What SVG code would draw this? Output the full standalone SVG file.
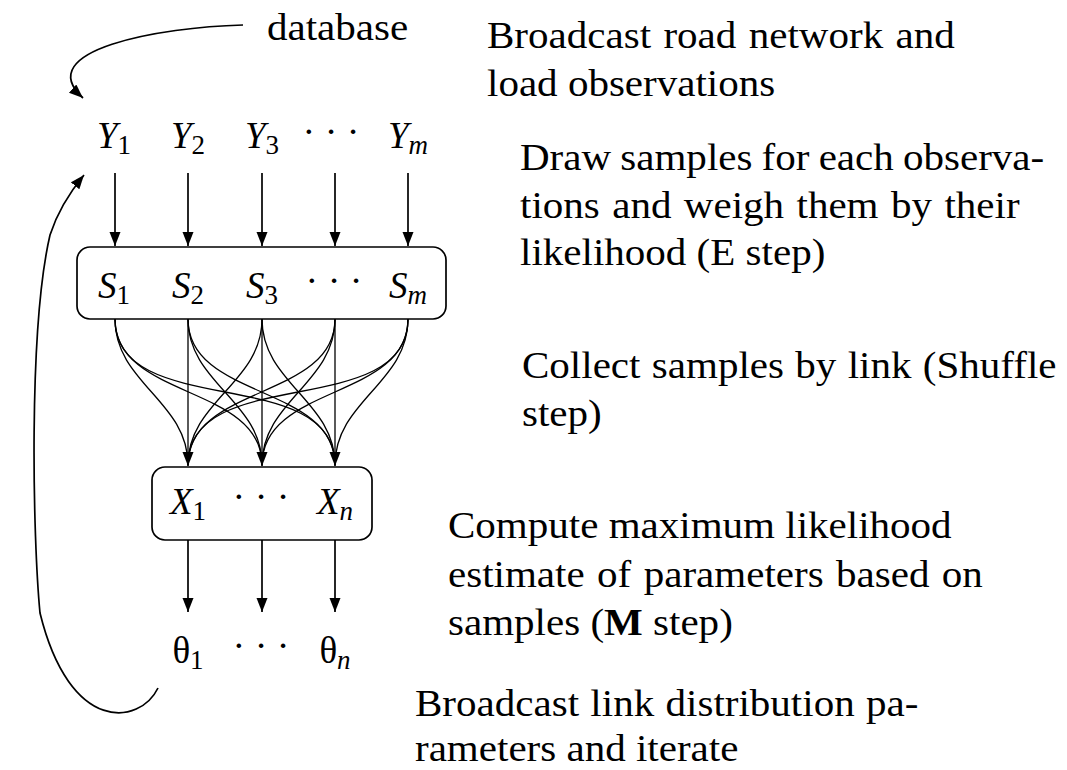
<svg xmlns="http://www.w3.org/2000/svg" width="1067" height="770" viewBox="0 0 1067 770">
<defs>
<marker id="ah" markerUnits="userSpaceOnUse" markerWidth="15" markerHeight="12" refX="14" refY="5.5" orient="auto">
<path d="M0,0 L14,5.5 L0,11 Z" fill="#000"/>
</marker>
<style>
text{font-family:'Liberation Serif','Times New Roman',serif;fill:#000}
.t{font-size:38px}
.m{font-size:37px}
.i{font-style:italic}
.sub{font-size:27px}
.dots{font-size:38px}
.box{fill:none;stroke:#000;stroke-width:1.7}
.ar{fill:none;stroke:#000;stroke-width:1.7;marker-end:url(#ah)}
.sh{fill:none;stroke:#000;stroke-width:1.3}
</style>
</defs>
<rect width="1067" height="770" fill="#fff"/>

<g id="database">
<text class="t" transform="translate(267 40) scale(1.08 1)">database</text>
</g>

<g id="Y">
<text class="m" x="114" y="148" text-anchor="middle"><tspan class="i">Y</tspan><tspan class="sub" dy="6">1</tspan></text>
<text class="m" x="188" y="148" text-anchor="middle"><tspan class="i">Y</tspan><tspan class="sub" dy="6">2</tspan></text>
<text class="m" x="262" y="148" text-anchor="middle"><tspan class="i">Y</tspan><tspan class="sub" dy="6">3</tspan></text>
<text class="dots" x="331" y="144" text-anchor="middle">· · ·</text>
<text class="m" x="408" y="148" text-anchor="middle"><tspan class="i">Y</tspan><tspan class="sub i" dy="6">m</tspan></text>
</g>

<g id="S">
<rect class="box" x="77" y="247" width="369" height="72" rx="13"/>
<text class="m" x="114" y="298" text-anchor="middle"><tspan class="i">S</tspan><tspan class="sub" dy="6">1</tspan></text>
<text class="m" x="188" y="298" text-anchor="middle"><tspan class="i">S</tspan><tspan class="sub" dy="6">2</tspan></text>
<text class="m" x="262" y="298" text-anchor="middle"><tspan class="i">S</tspan><tspan class="sub" dy="6">3</tspan></text>
<text class="dots" x="334" y="293" text-anchor="middle">· · ·</text>
<text class="m" x="408" y="298" text-anchor="middle"><tspan class="i">S</tspan><tspan class="sub i" dy="6">m</tspan></text>
</g>

<g id="X">
<rect class="box" x="152" y="467" width="220" height="73" rx="13"/>
<text class="m" x="188" y="514" text-anchor="middle"><tspan class="i">X</tspan><tspan class="sub" dy="6">1</tspan></text>
<text class="dots" x="261" y="509" text-anchor="middle">· · ·</text>
<text class="m" x="335" y="514" text-anchor="middle"><tspan class="i">X</tspan><tspan class="sub i" dy="6">n</tspan></text>
</g>

<g id="theta">
<text class="m" x="188" y="663" text-anchor="middle"><tspan>θ</tspan><tspan class="sub" dy="6">1</tspan></text>
<text class="dots" x="261" y="658" text-anchor="middle">· · ·</text>
<text class="m" x="335" y="663" text-anchor="middle"><tspan>θ</tspan><tspan class="sub i" dy="6">n</tspan></text>
</g>

<g id="connectors">
<path class="ar" d="M243,25 C160,27 30,50 83,98"/>
<path class="ar" d="M158,688 C140,725 70,735 40,613 C33,540 28,330 50,235 C58,210 70,192 84,175"/>
<path class="ar" d="M115,173 L115,246"/>
<path class="ar" d="M188,173 L188,246"/>
<path class="ar" d="M262,173 L262,246"/>
<path class="ar" d="M335,173 L335,246"/>
<path class="ar" d="M408,173 L408,246"/>

<path class="sh" d="M115,319 C115,383 188,401 188,465"/>
<path class="sh" d="M115,319 C115,400 262,384 262,465"/>
<path class="sh" d="M115,319 C115,422 335,362 335,465"/>
<path class="sh" d="M188,319 L188,465"/>
<path class="sh" d="M188,319 C188,383 262,401 262,465"/>
<path class="sh" d="M188,319 C188,400 335,384 335,465"/>
<path class="sh" d="M262,319 C262,383 188,401 188,465"/>
<path class="sh" d="M262,319 L262,465"/>
<path class="sh" d="M262,319 C262,383 335,401 335,465"/>
<path class="sh" d="M335,319 C335,400 188,384 188,465"/>
<path class="sh" d="M335,319 C335,383 262,401 262,465"/>
<path class="sh" d="M335,319 L335,465"/>
<path class="sh" d="M408,319 C408,422 188,362 188,465"/>
<path class="sh" d="M408,319 C408,400 262,384 262,465"/>
<path class="sh" d="M408,319 C408,383 335,401 335,465"/>
<path class="ar" d="M188,455 L188,466"/>
<path class="ar" d="M262,455 L262,466"/>
<path class="ar" d="M335,455 L335,466"/>

<path class="ar" d="M188,540 L188,612"/>
<path class="ar" d="M262,540 L262,612"/>
<path class="ar" d="M335,540 L335,612"/>
</g>

<g id="descriptions">
<text class="t" transform="translate(487 48) scale(1.08 1)" word-spacing="2">Broadcast road network and</text>
<text class="t" transform="translate(487 96) scale(1.08 1)">load observations</text>
<text class="t" transform="translate(520 170) scale(1.08 1)" word-spacing="-1">Draw samples for each observa-</text>
<text class="t" transform="translate(520 218) scale(1.08 1)" word-spacing="2">tions and weigh them by their</text>
<text class="t" transform="translate(520 265) scale(1.08 1)">likelihood (E step)</text>
<text class="t" transform="translate(522 378) scale(1.08 1)" word-spacing="1">Collect samples by link (Shuffle</text>
<text class="t" transform="translate(522 426) scale(1.08 1)">step)</text>
<text class="t" transform="translate(448 538) scale(1.08 1)">Compute maximum likelihood</text>
<text class="t" transform="translate(448 587) scale(1.08 1)" word-spacing="2">estimate of parameters based on</text>
<text class="t" transform="translate(448 635) scale(1.08 1)">samples (<tspan font-weight="bold">M</tspan> step)</text>
<text class="t" transform="translate(415 716) scale(1.08 1)" word-spacing="1">Broadcast link distribution pa-</text>
<text class="t" transform="translate(415 761) scale(1.08 1)">rameters and iterate</text>
</g>
</svg>
